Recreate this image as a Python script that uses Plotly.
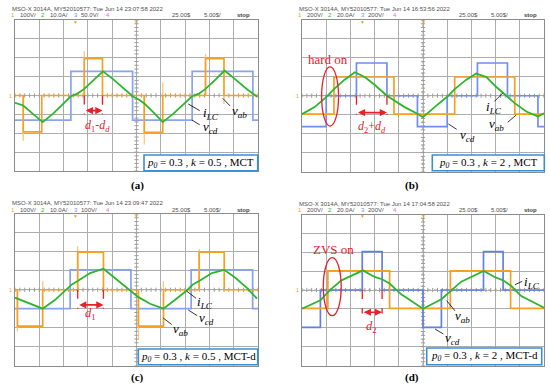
import plotly.graph_objects as go
import numpy as np

W, H = 550, 388

# ---------------- data (grid divisions: x 0..10, y -4..4) ----------------
# panel (a)  p0=0.3, k=0.5, MCT
a_vab_t = [0, 0.34, 1.10, 2.85, 3.60, 5.32, 6.08, 7.84, 8.60, 10]
a_vab_v = [0, -1.93, 0, 1.95, 0, -1.95, 0, 1.95, 0, 0]
a_spike_t = [2.85, 7.84, 5.32, 0.34, 6.08, 3.60, 8.60]
a_spike_v = [2.35, 2.2, -2.6, -2.4, 0.7, -0.5, -0.45]
a_vcd_t = [0, 2.30, 4.84, 7.29, 9.79, 10]
a_vcd_v = [-1.3, 1.28, -1.3, 1.28, -1.3, -1.3]
a_ilc_t = [0, 0.34, 0.76, 1.14, 1.58, 1.99, 2.30, 2.57, 2.85, 3.23, 3.62, 4.06, 4.47, 4.84,
           5.09, 5.32, 5.71, 6.08, 6.53, 6.95, 7.29, 7.57, 7.84, 8.25, 8.62, 9.08, 9.56, 9.97]
a_ilc_v = [-0.39, -0.53, -1.0, -1.41, -0.95, -0.42, -0.04, 0.1, 0.35, 0.81, 1.28, 0.84, 0.40, -0.04,
           -0.21, -0.42, -0.91, -1.41, -0.95, -0.42, -0.04, 0.1, 0.35, 0.84, 1.32, 0.84, 0.32, -0.07]

# panel (b)  p0=0.3, k=2, MCT
b_vab_t = [0, 1.32, 3.80, 6.31, 8.79, 10]
b_vab_v = [-0.97, 0.99, -0.97, 0.99, -0.97, -0.97]
b_spike_t = []
b_spike_v = []
b_vcd_t = [0, 1.0, 2.25, 3.51, 4.77, 6.0, 7.25, 8.49, 9.75, 10]
b_vcd_v = [-1.63, 0, 1.73, 0, -1.63, 0, 1.73, 0, -1.63, -1.63]
b_ilc_t = [0, 0.52, 1.0, 1.32, 1.76, 2.18, 2.59, 3.0, 3.51, 3.80, 4.24, 4.77, 5.0, 5.48, 6.01,
           6.31, 6.79, 7.2, 7.62, 8.03, 8.51, 8.79, 9.27, 9.75, 10.0]
b_ilc_v = [-0.97, -0.6, -0.07, 0.35, 0.85, 1.24, 0.99, 0.58, 0.0, -0.25, -0.6, -0.95, -1.13, -0.6, -0.04,
           0.35, 0.85, 1.17, 0.99, 0.46, -0.07, -0.39, -0.83, -1.1, -0.92]

# panel (c)  p0=0.3, k=0.5, MCT-d
c_vab_t = [0, 0.1, 1.14, 2.58, 3.64, 5.08, 6.11, 7.58, 8.61, 10]
c_vab_v = [0, -1.92, 0, 1.99, 0, -1.92, 0, 1.99, 0, 0]
c_spike_t = [2.58, 7.58, 5.08, 0.1, 1.14, 6.11]
c_spike_v = [2.3, 2.15, -2.65, -2.2, 0.45, 0.45]
c_vcd_t = [0, 2.27, 4.77, 7.25, 9.78, 10]
c_vcd_v = [-1.0, 1.05, -1.0, 1.05, -1.0, -1.0]
c_ilc_t = [0, 0.48, 1.14, 1.65, 2.09, 2.34, 2.58, 3.09, 3.64, 4.05, 4.46, 4.88, 5.08, 5.56, 6.11,
           6.59, 7.07, 7.32, 7.58, 8.1, 8.61, 9.07, 9.55, 9.96]
c_ilc_v = [-0.42, -0.65, -1.0, -0.53, -0.04, 0.28, 0.46, 0.88, 1.11, 0.67, 0.23, -0.21, -0.39, -0.74, -1.0,
           -0.53, -0.04, 0.28, 0.46, 0.88, 1.05, 0.63, 0.09, -0.47]

# panel (d)  p0=0.3, k=2, MCT-d
d_vab_t = [0, 1.07, 3.62, 6.13, 8.62, 10]
d_vab_v = [-0.97, 1.01, -0.97, 1.01, -0.97, -0.97]
d_spike_t = []
d_spike_v = []
d_vcd_t = [0, 0.76, 2.49, 3.31, 5.0, 5.76, 7.5, 8.31, 10]
d_vcd_v = [-1.98, 0, 2.03, 0, -1.98, 0, 2.03, 0, 0]
d_ilc_t = [0, 0.76, 1.14, 1.63, 2.52, 3.0, 3.31, 3.62, 4.1, 5.0, 5.76, 6.13, 6.58, 7.51, 7.96,
           8.31, 8.65, 9.06, 10.0]
d_ilc_v = [-0.99, -0.55, -0.02, 0.51, 1.04, 0.69, 0.57, 0.34, -0.23, -0.99, -0.49, -0.09, 0.44, 1.01, 0.69,
           0.51, 0.21, -0.32, -0.94]

headers = [
    ("Tue Jun 14 23:07:58 2022", ["100V/", "10.0A/", "50.0V/"]),
    ("Tue Jun 14 16:53:56 2022", ["200V/", "20.0A/", "200V/"]),
    ("Tue Jun 14 23:09:47 2022", ["100V/", "10.0A/", "100V/"]),
    ("Tue Jun 14 17:04:58 2022", ["200V/", "20.0A/", "200V/"]),
]
box_texts = [
    "<i>p</i><sub><i>0</i></sub> = 0.3 , <i>k</i> = 0.5 , MCT",
    "<i>p</i><sub><i>0</i></sub> = 0.3 , <i>k</i> = 2 , MCT",
    "<i>p</i><sub><i>0</i></sub> = 0.3 , <i>k</i> = 0.5 , MCT-d",
    "<i>p</i><sub><i>0</i></sub> = 0.3 , <i>k</i> = 2 , MCT-d",
]
captions = ["(a)", "(b)", "(c)", "(d)"]

# ---------------- styling / geometry ----------------
ORANGE = "#F5A020"
ORANGE_LIGHT = "#F8C77C"
GREEN = "#2DB52D"
BLUES = ["#8AA4F0", "#6F8FEE", "#86A2F0", "#6080E6"]
RED = "#E8202A"
GRID = "#ADADAD"
SERIF = "Liberation Serif, Times New Roman, serif"
SANS = "Liberation Sans Narrow, Liberation Sans, Arial, sans-serif"

# panel pixel frames: (L, R, T, B)
panels = [(15, 258, 20, 171), (302, 544, 20, 171.5), (15, 258, 214, 365.5), (302, 544, 214.5, 365.5)]
boxes = [(144, 155, 257.7, 170.7), (432.3, 155, 544.3, 170.7),
         (138.3, 349, 257.7, 364.7), (426.7, 348, 541.7, 364.7)]
cap_pos = [(137, 185), (412, 185), (137, 377), (412, 377)]

def px(x):
    return x / W

def py(y):
    return 1 - y / H

fig = go.Figure()
layout = dict(width=W, height=H, margin=dict(l=0, r=0, t=0, b=0),
              paper_bgcolor="white", plot_bgcolor="white", showlegend=False)
shapes = []
annos = []

data = [
    (a_vab_t, a_vab_v, a_vcd_t, a_vcd_v, a_ilc_t, a_ilc_v, a_spike_t, a_spike_v),
    (b_vab_t, b_vab_v, b_vcd_t, b_vcd_v, b_ilc_t, b_ilc_v, b_spike_t, b_spike_v),
    (c_vab_t, c_vab_v, c_vcd_t, c_vcd_v, c_ilc_t, c_ilc_v, c_spike_t, c_spike_v),
    (d_vab_t, d_vab_v, d_vcd_t, d_vcd_v, d_ilc_t, d_ilc_v, d_spike_t, d_spike_v),
]

for i, (L, R, T, B) in enumerate(panels):
    sfx = "" if i == 0 else str(i + 1)
    xa, ya = "x" + sfx, "y" + sfx
    layout["xaxis" + sfx] = dict(domain=[px(L), px(R)], range=[0, 10], anchor=ya,
                                 showticklabels=False, ticks="", zeroline=False,
                                 showgrid=True, dtick=1, tick0=0, gridcolor=GRID, gridwidth=1,
                                 showline=True, mirror=True, linecolor="#8C8C8C", linewidth=1,
                                 fixedrange=True)
    layout["yaxis" + sfx] = dict(domain=[py(B), py(T)], range=[-4, 4], anchor=xa,
                                 showticklabels=False, ticks="", zeroline=False,
                                 showgrid=True, dtick=1, tick0=0, gridcolor=GRID, gridwidth=1,
                                 showline=True, mirror=True, linecolor="#8C8C8C", linewidth=1,
                                 fixedrange=True)
    # centre crosshair (dotted) with minor ticks
    shapes.append(dict(type="line", xref=xa, yref=ya, x0=5, x1=5, y0=-4, y1=4,
                       line=dict(color="#8A8A8A", width=1, dash="dot"), layer="below"))
    shapes.append(dict(type="line", xref=xa, yref=ya, x0=0, x1=10, y0=0, y1=0,
                       line=dict(color="#9A9A9A", width=1, dash="dot"), layer="below"))
    tx = np.arange(0, 10.01, 0.2)
    ty = np.arange(-4, 4.01, 0.2)
    fig.add_trace(go.Scatter(x=tx, y=np.zeros_like(tx), mode="markers", xaxis=xa, yaxis=ya,
                             marker=dict(symbol="line-ns", size=3, line=dict(width=1, color="#9A9A9A")),
                             hoverinfo="skip"))
    fig.add_trace(go.Scatter(x=np.full_like(ty, 5), y=ty, mode="markers", xaxis=xa, yaxis=ya,
                             marker=dict(symbol="line-ew", size=3, line=dict(width=1, color="#9A9A9A")),
                             hoverinfo="skip"))

    vab_t, vab_v, vcd_t, vcd_v, ilc_t, ilc_v, sp_t, sp_v = data[i]
    fig.add_trace(go.Scatter(x=vcd_t, y=vcd_v, mode="lines", line_shape="hv", xaxis=xa, yaxis=ya,
                             line=dict(color=BLUES[i], width=1.7), name="vcd"))
    if sp_t:
        sx, sy = [], []
        for t, v in zip(sp_t, sp_v):
            sx += [t, t, None]
            sy += [0, v, None]
        fig.add_trace(go.Scatter(x=sx, y=sy, mode="lines", xaxis=xa, yaxis=ya,
                                 line=dict(color=ORANGE_LIGHT, width=1.3), hoverinfo="skip"))
    fig.add_trace(go.Scatter(x=vab_t, y=vab_v, mode="lines", line_shape="hv", xaxis=xa, yaxis=ya,
                             line=dict(color=ORANGE, width=1.7), name="vab"))
    fig.add_trace(go.Scatter(x=ilc_t, y=ilc_v, mode="lines", xaxis=xa, yaxis=ya,
                             line=dict(color=GREEN, width=1.8), name="iLC"))

    # header texts
    date, scales = headers[i]
    hy = T - 11
    annos.append(dict(xref="paper", yref="paper", x=px(L - 5), y=py(hy), xanchor="left", yanchor="middle",
                      text="MSO-X 3014A, MY52010577: " + date, showarrow=False,
                      font=dict(family=SANS, size=6, color="#505050")))
    hy2 = T - 4.5
    chans = [("1", ORANGE, -2), (scales[0], "#505050", 7), ("2", GREEN, 28), (scales[1], "#505050", 37),
             ("3", "#7090EE", 61), (scales[2], "#505050", 68), ("4", "#E070D0", 93)]
    for txt, col, off in chans:
        annos.append(dict(xref="paper", yref="paper", x=px(L - 4 + off), y=py(hy2), xanchor="left",
                          yanchor="middle", text=txt, showarrow=False,
                          font=dict(family=SANS, size=6, color=col)))
    for txt, off, col in [("25.00$", 155, "#505050"), ("5.00$/", 187, "#505050"), ("<b>stop</b>", 220, "#404040")]:
        annos.append(dict(xref="paper", yref="paper", x=px(L + off), y=py(hy2), xanchor="left",
                          yanchor="middle", text=txt, showarrow=False,
                          font=dict(family=SANS, size=6, color=col)))
    # trigger markers on top edge and ground marker on left edge
    for mx in (L + (R - L) * 0.25, L + (R - L) * 0.5):
        annos.append(dict(xref="paper", yref="paper", x=px(mx), y=py(T + 1.5), xanchor="center",
                          yanchor="middle", text="▼", showarrow=False,
                          font=dict(size=5, color=ORANGE)))
    annos.append(dict(xref="paper", yref="paper", x=px(L - 1), y=py((T + B) / 2), xanchor="right",
                      yanchor="middle", text="1", showarrow=False,
                      font=dict(family=SANS, size=5.5, color=ORANGE)))

    # parameter box
    x0, y0, x1, y1 = boxes[i]
    shapes.append(dict(type="rect", xref="paper", yref="paper", x0=px(x0), x1=px(x1), y0=py(y1), y1=py(y0),
                       line=dict(color="#3A8ED4", width=1.6), fillcolor="white", layer="above"))
    annos.append(dict(xref="paper", yref="paper", x=px((x0 + x1) / 2), y=py((y0 + y1) / 2),
                      xanchor="center", yanchor="middle", text=box_texts[i], showarrow=False,
                      font=dict(family=SERIF, size=11, color="black")))
    # caption
    cx, cy = cap_pos[i]
    annos.append(dict(xref="paper", yref="paper", x=px(cx), y=py(cy), xanchor="center", yanchor="middle",
                      text="<b>" + captions[i] + "</b>", showarrow=False,
                      font=dict(family=SERIF, size=11, color="black")))


def ax_of(i):
    s = "" if i == 0 else str(i + 1)
    return "x" + s, "y" + s


def label(i, x, y, text, color="black", size=13):
    xa, ya = ax_of(i)
    annos.append(dict(xref=xa, yref=ya, x=x, y=y, text=text, showarrow=False,
                      xanchor="center", yanchor="middle", font=dict(family=SERIF, size=size, color=color)))


def pointer(i, x0, y0, x1, y1):
    xa, ya = ax_of(i)
    shapes.append(dict(type="line", xref=xa, yref=ya, x0=x0, y0=y0, x1=x1, y1=y1,
                       line=dict(color="black", width=0.8)))


def dim(i, xa0, xa1, ybot, yarr):
    xa, ya = ax_of(i)
    for xv in (xa0, xa1):
        shapes.append(dict(type="line", xref=xa, yref=ya, x0=xv, x1=xv, y0=0, y1=ybot,
                           line=dict(color=RED, width=1.3, dash="dash")))
    annos.append(dict(xref=xa, yref=ya, x=xa1, y=yarr, ax=xa0, ay=yarr, axref=xa, ayref=ya,
                      text="", showarrow=True, arrowhead=2, startarrowhead=2, arrowside="end+start",
                      arrowsize=0.9, arrowwidth=1.6, arrowcolor=RED, standoff=0, startstandoff=0))


def ellipse(i, x0, x1, y0, y1):
    xa, ya = ax_of(i)
    shapes.append(dict(type="circle", xref=xa, yref=ya, x0=x0, x1=x1, y0=y0, y1=y1,
                       line=dict(color=RED, width=1.3)))


ILC = "<i>i</i><sub><i>LC</i></sub>"
VAB = "<i>v</i><sub><i>ab</i></sub>"
VCD = "<i>v</i><sub><i>cd</i></sub>"

# (a)
dim(0, 2.85, 3.60, -1.0, -0.8)
label(0, 3.40, -1.6, "<i>d</i><sub>1</sub>-<i>d</i><sub><i>d</i></sub>", RED, 12)
pointer(0, 7.13, -0.45, 7.6, -0.8)
label(0, 8.05, -0.95, ILC)
pointer(0, 8.55, -0.15, 8.85, -0.55)
label(0, 9.25, -0.85, VAB)
pointer(0, 7.28, -1.3, 7.6, -1.55)
label(0, 8.05, -1.72, VCD)

# (b)
ellipse(1, 0.81, 1.51, -1.6, 1.52)
label(1, 1.06, 1.93, "hard on", RED, 13)
dim(1, 2.25, 3.51, -1.0, -0.89)
label(1, 2.88, -1.65, "<i>d</i><sub>2</sub>+<i>d</i><sub><i>d</i></sub>", RED, 12)
pointer(1, 7.95, -0.3, 8.3, 0.15)
label(1, 7.95, -0.62, ILC)
pointer(1, 8.5, -1.4, 8.85, -1.02)
label(1, 8.05, -1.5, VAB)
pointer(1, 6.05, -1.49, 6.39, -1.77)
label(1, 6.85, -2.1, VCD)

# (c)
dim(2, 2.58, 3.64, -1.0, -0.8)
label(2, 3.09, -1.3, "<i>d</i><sub>1</sub>", RED, 12.5)
pointer(2, 7.07, -0.08, 7.45, -0.45)
label(2, 7.8, -0.65, ILC)
pointer(2, 7.13, -1.07, 7.5, -1.37)
label(2, 7.9, -1.5, VCD)
pointer(2, 6.1, -1.49, 6.45, -1.84)
label(2, 6.8, -2.1, VAB)

# (d)
ellipse(3, 0.88, 1.62, -1.36, 1.71)
label(3, 1.29, 2.17, "ZVS on", RED, 13)
dim(3, 2.49, 3.31, -1.25, -1.18)
label(3, 2.88, -1.95, "<i>d</i><sub>2</sub>", RED, 12.5)
pointer(3, 8.8, 0.28, 9.1, 0.46)
label(3, 9.5, 0.41, ILC)
pointer(3, 5.98, -0.57, 6.32, -1.1)
label(3, 6.65, -1.4, VAB)
pointer(3, 5.5, -2.07, 5.84, -2.33)
label(3, 6.2, -2.55, VCD)

layout["shapes"] = shapes
layout["annotations"] = annos
fig.update_layout(**layout)
fig.write_html("out.html", config={"displayModeBar": False},
               post_script="document.body.style.margin='0';document.body.style.padding='0';")
